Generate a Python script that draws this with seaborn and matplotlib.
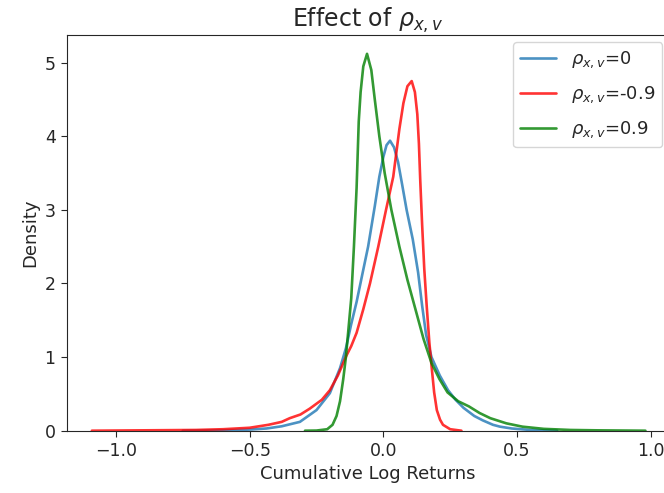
import matplotlib
matplotlib.use("Agg")
import matplotlib.pyplot as plt
import seaborn as sns
import numpy as np

# ---- data (density curves) ----
blue_x = [-0.75, -0.6, -0.5, -0.437, -0.38, -0.312, -0.25, -0.2, -0.162, -0.14, -0.12, -0.1,
          -0.08, -0.057, -0.032, -0.015, 0.0, 0.012, 0.025, 0.04, 0.055, 0.07, 0.087, 0.11,
          0.13, 0.145, 0.16, 0.18, 0.211, 0.242, 0.27, 0.3, 0.34, 0.372, 0.41, 0.436, 0.48,
          0.55, 0.65]
blue_y = [0.0, 0.005, 0.015, 0.03, 0.06, 0.12, 0.28, 0.51, 0.85, 1.12, 1.45, 1.75,
          2.1, 2.5, 3.05, 3.45, 3.72, 3.88, 3.94, 3.85, 3.65, 3.35, 3.0, 2.6,
          2.15, 1.7, 1.3, 1.0, 0.75, 0.55, 0.42, 0.31, 0.2, 0.14, 0.08, 0.055, 0.03,
          0.01, 0.0]

red_x = [-1.09, -0.9, -0.7, -0.6, -0.5, -0.43, -0.38, -0.35, -0.31, -0.275, -0.23, -0.2,
         -0.17, -0.138, -0.12, -0.1, -0.075, -0.05, -0.019, 0.01, 0.037, 0.06, 0.075, 0.09,
         0.106, 0.118, 0.127, 0.133, 0.138, 0.145, 0.153, 0.162, 0.172, 0.181, 0.19, 0.2,
         0.212, 0.223, 0.25, 0.292]
red_y = [0.0, 0.005, 0.01, 0.02, 0.04, 0.08, 0.12, 0.17, 0.22, 0.3, 0.42, 0.55,
         0.75, 1.02, 1.15, 1.33, 1.65, 2.0, 2.5, 3.0, 3.45, 4.1, 4.45, 4.68,
         4.75, 4.6, 4.3, 3.9, 3.4, 2.8, 2.2, 1.7, 1.2, 0.85, 0.52, 0.28,
         0.15, 0.08, 0.02, 0.0]

green_x = [-0.293, -0.25, -0.21, -0.19, -0.175, -0.162, -0.15, -0.14, -0.13, -0.12, -0.11,
           -0.1, -0.092, -0.085, -0.075, -0.061, -0.045, -0.032, -0.015, 0.005, 0.03, 0.06,
           0.09, 0.12, 0.15, 0.18, 0.21, 0.24, 0.28, 0.32, 0.36, 0.4, 0.46, 0.52, 0.6, 0.7,
           0.8, 0.98]
green_y = [0.0, 0.002, 0.02, 0.08, 0.2, 0.4, 0.7, 1.0, 1.4, 1.8, 2.5,
           3.3, 4.2, 4.6, 4.95, 5.12, 4.9, 4.5, 4.0, 3.5, 3.0, 2.5,
           2.05, 1.65, 1.25, 0.92, 0.7, 0.52, 0.4, 0.33, 0.24, 0.17, 0.1, 0.055, 0.025, 0.01,
           0.005, 0.0]

labels = [r"$\rho_{x,v}$=0", r"$\rho_{x,v}$=-0.9", r"$\rho_{x,v}$=0.9"]
colors = ["#1f77b4", "red", "green"]

sns.set_style("ticks")
plt.rcParams["font.family"] = ["DejaVu Sans"]
plt.rcParams["xtick.major.size"] = 4.5
plt.rcParams["ytick.major.size"] = 4.5

fig = plt.figure(figsize=(6.64, 4.93), dpi=100)
ax = fig.add_axes([66.7 / 664, 62.3 / 493, (669.5 - 66.7) / 664, 395.7 / 493])

for xs, ys, lab, col in zip([blue_x, red_x, green_x], [blue_y, red_y, green_y], labels, colors):
    sns.lineplot(x=xs, y=ys, ax=ax, color=col, label=lab, linewidth=1.9, alpha=0.8)

ax.set_xlim(-1.184, 1.07)
ax.set_ylim(0, None)
ax.set_xlabel("Cumulative Log Returns", fontsize=13)
ax.set_ylabel("Density", fontsize=13)
ax.set_title(r"Effect of $\rho_{x,v}$", fontsize=17, pad=5)
ax.tick_params(labelsize=12.5)
for s in ax.spines.values():
    s.set_visible(True)
ax.legend(loc="upper right", frameon=True, fontsize=13, labelspacing=0.8,
          borderaxespad=0.4)

fig.savefig("out.png", dpi=100)
